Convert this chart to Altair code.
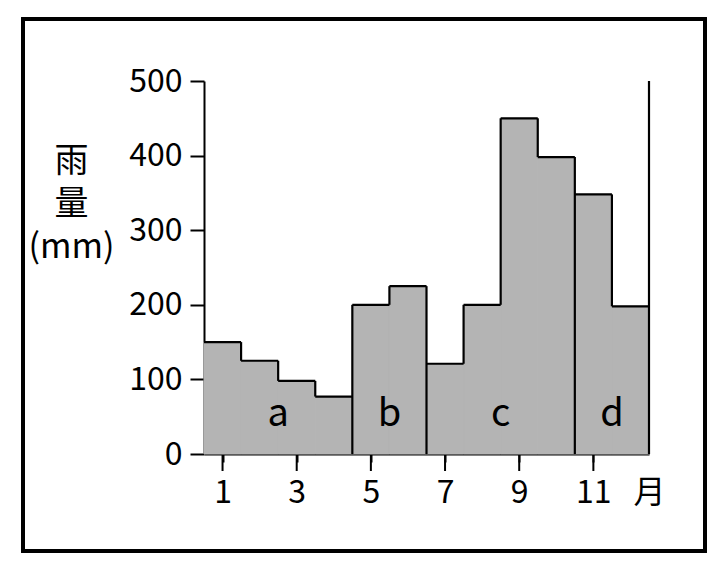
import altair as alt
import pandas as pd

months = list(range(1, 13))
rain = [150, 125, 98, 77, 200, 225, 121, 200, 450, 398, 348, 198]
groups = ['a', 'a', 'a', 'a', 'b', 'b', 'c', 'c', 'c', 'c', 'd', 'd']
y_ticks = [0, 100, 200, 300, 400, 500]

FONT = "Noto Sans CJK JP"
FILL = "#b4b4b4"

bars = pd.DataFrame({
    "month": months,
    "x0": [m - 0.5 for m in months],
    "x1": [m + 0.5 for m in months],
    "rain": rain,
    "group": groups,
})

# outline segments derived from the data
segs = []
for i, m in enumerate(months):
    segs.append({"x": m - 0.5, "x2": m + 0.5, "y": rain[i], "y2": rain[i]})
for i in range(len(months) - 1):
    xb = months[i] + 0.5
    if groups[i] == groups[i + 1]:
        segs.append({"x": xb, "x2": xb, "y": rain[i], "y2": rain[i + 1]})
    else:
        segs.append({"x": xb, "x2": xb, "y": 0, "y2": max(rain[i], rain[i + 1])})
# right frame line of the plot
segs.append({"x": months[-1] + 0.5, "x2": months[-1] + 0.5, "y": y_ticks[0], "y2": y_ticks[-1]})
segs_df = pd.DataFrame(segs)

glabels = bars.groupby("group", as_index=False)["month"].mean().rename(columns={"month": "cx"})
glabels["ty"] = 37

xscale = alt.Scale(domain=[0.5, 12.5], nice=False, zero=False)
yscale = alt.Scale(domain=[0, 500], nice=False)

x_axis = alt.Axis(
    values=months + [12.5],
    labelExpr="datum.value == 12.5 ? '月' : (datum.value % 2 == 1 ? datum.label : '')",
    tickSize=8,
    tickOpacity=alt.condition("datum.value == 12.5", alt.value(0), alt.value(1)),
    title=None, grid=False, labelFont=FONT, labelFontSize=32, labelColor="black",
    tickColor="black", tickWidth=2, domainColor="black", domainWidth=2,
    labelPadding=15, labelFlush=False, labelOverlap=False,
)

y_axis = alt.Axis(
    values=y_ticks, tickSize=14, grid=False, labelFont=FONT, labelFontSize=32,
    labelColor="black", labelPadding=8, tickColor="black", tickWidth=2,
    domainColor="black", domainWidth=2,
    title=["雨", "量", "(mm)"], titleAngle=0, titleX=-133, titleY=63,
    titleAlign="center", titleBaseline="top", titleLineHeight=43,
    titleFont=FONT, titleFontSize=34, titleFontWeight="normal", titleColor="black",
)

base = alt.Chart(bars).mark_rect(fill=FILL, stroke=FILL, strokeWidth=1).encode(
    x=alt.X("x0:Q", scale=xscale, axis=x_axis),
    x2="x1:Q",
    y=alt.Y("rain:Q", scale=yscale, axis=y_axis),
)

major = alt.Chart(pd.DataFrame({"m": [m for m in months if m % 2 == 1]})).mark_rule(
    color="black", strokeWidth=2
).encode(
    x=alt.X("m:Q"),
    y=alt.value(373 + 1),
    y2=alt.value(373 + 17),
)

outline = alt.Chart(segs_df).mark_rule(color="black", strokeWidth=2.2).encode(
    x=alt.X("x:Q"), x2="x2:Q",
    y=alt.Y("y:Q"), y2="y2:Q",
)

texts = alt.Chart(glabels).mark_text(
    font=FONT, fontSize=38, baseline="alphabetic", color="black"
).encode(
    x=alt.X("cx:Q"),
    y=alt.Y("ty:Q"),
    text="group:N",
)

frame = alt.Chart(bars).mark_rect(filled=False, stroke="black", strokeWidth=3).encode(
    x=alt.value(-181), x2=alt.value(501), y=alt.value(-62), y2=alt.value(470)
)

chart = alt.layer(base, outline, major, texts, frame).properties(
    width=445, height=373,
    padding={"left": 196, "top": 73, "right": 64, "bottom": 104},
    autosize=alt.AutoSizeParams(type="none"),
    background="white",
).configure_view(stroke=None)

chart.save("out.html", embed_options={"renderer": "svg", "actions": False})
